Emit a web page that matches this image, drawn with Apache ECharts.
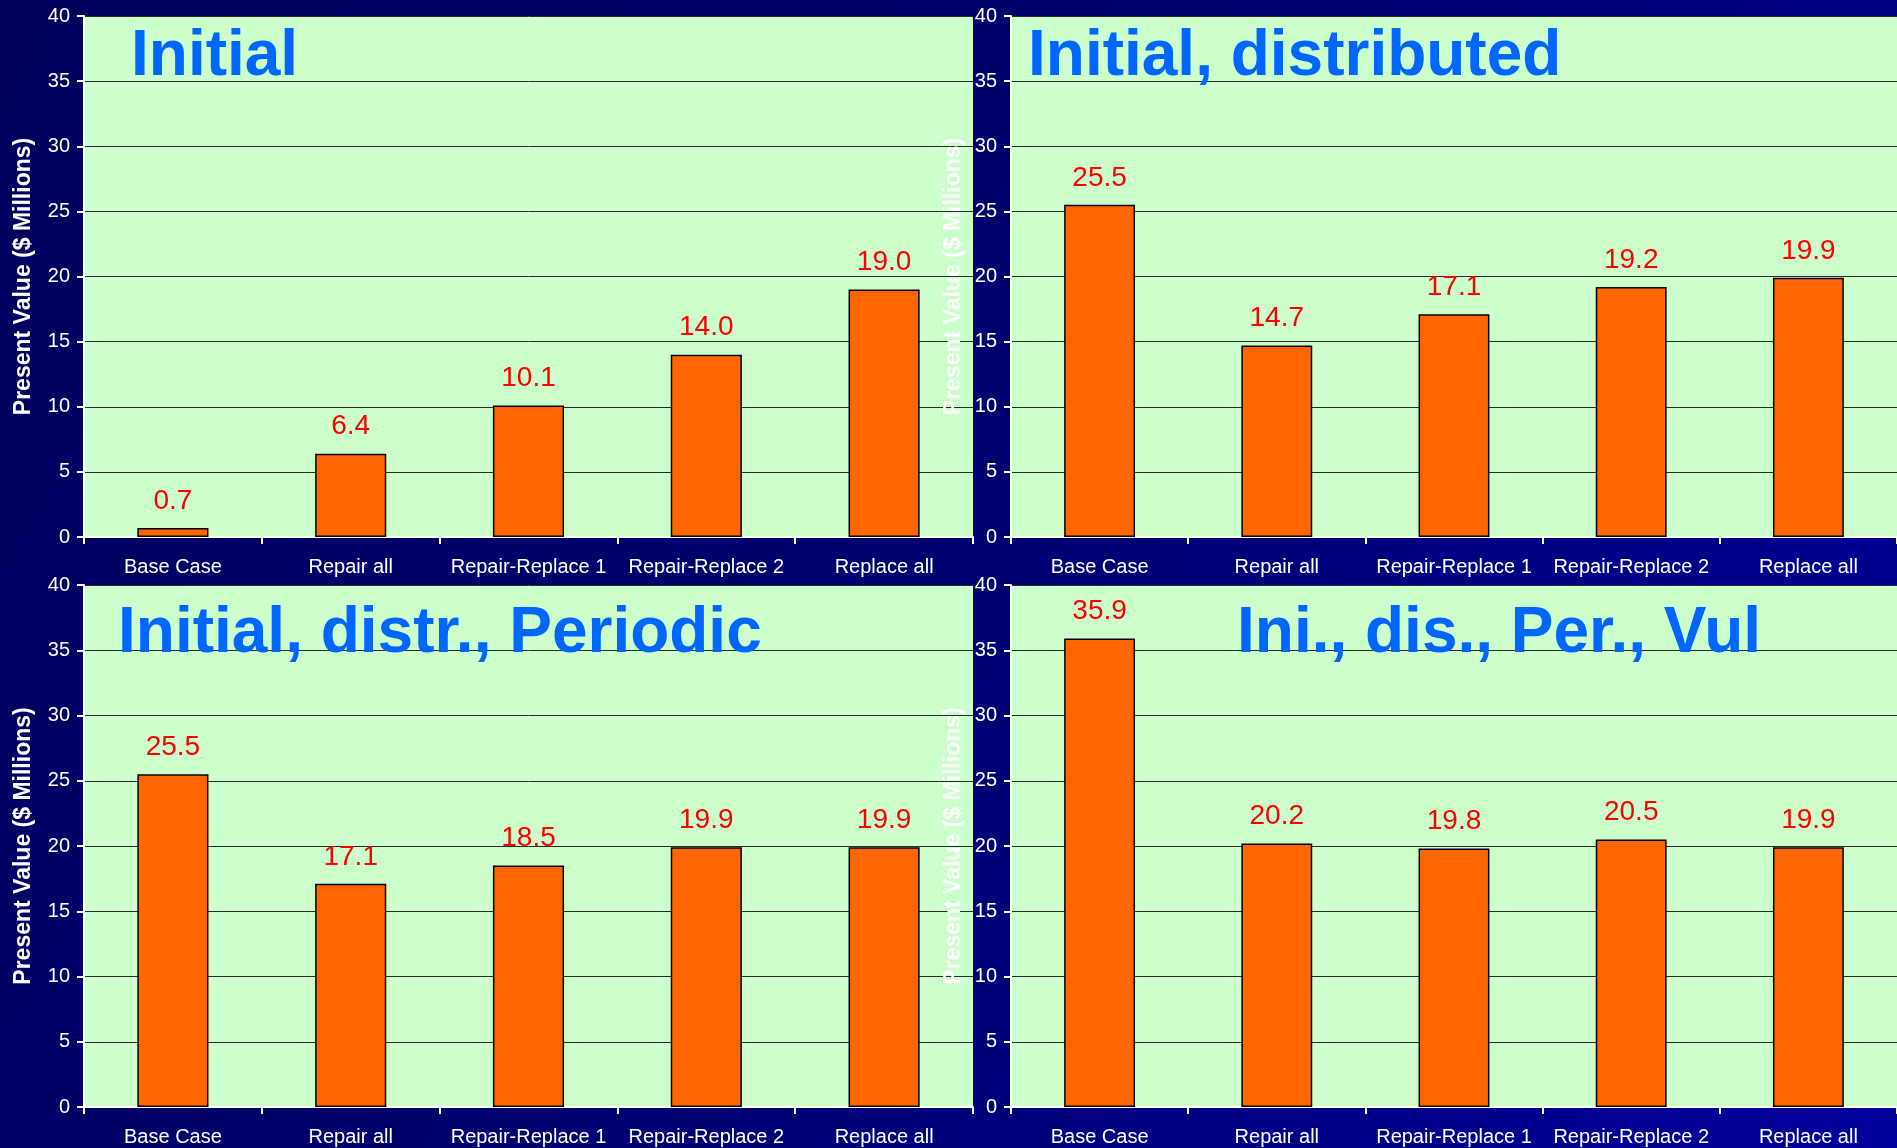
<!DOCTYPE html>
<html>
<head>
<meta charset="utf-8">
<title>Present Value by scenario</title>
<script src="https://cdn.jsdelivr.net/npm/echarts@6/dist/echarts.min.js"></script>
<style>
  html, body { margin: 0; padding: 0; background: #000066; }
  #chart { width: 1897px; height: 1148px; }
</style>
</head>
<body>
<div id="chart"></div>
<script>
// 数据
const categories = ['Base Case', 'Repair all', 'Repair-Replace 1', 'Repair-Replace 2', 'Replace all']
const panelTitles = ['Initial', 'Initial, distributed', 'Initial, distr., Periodic', 'Ini., dis., Per., Vul']
const initialValues = [0.7, 6.4, 10.1, 14.0, 19.0]
const distributedValues = [25.5, 14.7, 17.1, 19.2, 19.9]
const periodicValues = [25.5, 17.1, 18.5, 19.9, 19.9]
const vulnerableValues = [35.9, 20.2, 19.8, 20.5, 19.9]
const panelValues = [initialValues, distributedValues, periodicValues, vulnerableValues]
const yTicks = { min: 0, max: 40, interval: 5 }
const yAxisName = 'Present Value ($ Millions)'

const FONT = '"Liberation Sans", Arial, sans-serif'

// 四个面板的网格位置
const grids = [
    { left: 84, top: 16, width: 889, height: 521 },
    { left: 1011, top: 16, width: 892, height: 521 },
    { left: 84, top: 585, width: 889, height: 522 },
    { left: 1011, top: 585, width: 892, height: 522 },
]
const titlePos = [
    { left: 126, top: 20 },
    { left: 1023, top: 20 },
    { left: 113, top: 597 },
    { left: 1232, top: 597 },
]
const nameGaps = [49, 46, 49, 46]

const chart = echarts.init(document.getElementById('chart'), null, { renderer: 'canvas' })

const option = {
    animation: false,
    backgroundColor: new echarts.graphic.LinearGradient(0, 0, 1, 1, [
        { offset: 0, color: '#00005C' },
        { offset: 0.5, color: '#000070' },
        { offset: 1, color: '#00009C' },
    ]),
    title: panelTitles.map((t, i) => ({
        text: t,
        left: titlePos[i].left,
        top: titlePos[i].top,
        z: 10,
        textStyle: { color: '#0066FF', fontSize: 64, fontWeight: 'bold', fontFamily: FONT },
    })),
    grid: grids.map((g) => ({
        ...g,
        show: true,
        backgroundColor: '#CCFFCC',
        borderWidth: 0,
    })),
    xAxis: grids.map((g, i) => ({
        type: 'category',
        gridIndex: i,
        data: categories,
        axisLine: { lineStyle: { color: '#FFFFFF', width: 2 } },
        axisTick: { show: true, length: 7, lineStyle: { color: '#FFFFFF', width: 2 } },
        axisLabel: { color: '#FFFFFF', fontSize: 20, fontFamily: FONT, margin: 20, interval: 0 },
    })),
    yAxis: grids.map((g, i) => ({
        type: 'value',
        gridIndex: i,
        min: yTicks.min,
        max: yTicks.max,
        interval: yTicks.interval,
        name: yAxisName,
        nameLocation: 'middle',
        nameGap: nameGaps[i],
        nameTextStyle: { color: '#FFFFFF', fontSize: 23, fontWeight: 'bold', fontFamily: FONT },
        axisLine: { show: true, lineStyle: { color: '#FFFFFF', width: 2 } },
        axisTick: { show: true, length: 7, lineStyle: { color: '#FFFFFF', width: 2 } },
        axisLabel: { color: '#FFFFFF', fontSize: 20, fontFamily: FONT, margin: 14 },
        splitLine: { show: true, lineStyle: { color: '#2A2A2A', width: 1 } },
    })),
    series: panelValues.map((vals, i) => ({
        type: 'bar',
        xAxisIndex: i,
        yAxisIndex: i,
        data: vals,
        barWidth: '40%',
        itemStyle: { color: '#FF6600', borderColor: '#000000', borderWidth: 1.5 },
        label: {
            show: true,
            position: 'top',
            distance: 13,
            color: '#FF0000',
            fontSize: 28,
            fontFamily: FONT,
            formatter: (p) => p.value.toFixed(1),
        },
    })),
}

chart.setOption(option)
window.addEventListener('resize', () => chart.resize())
</script>
</body>
</html>
